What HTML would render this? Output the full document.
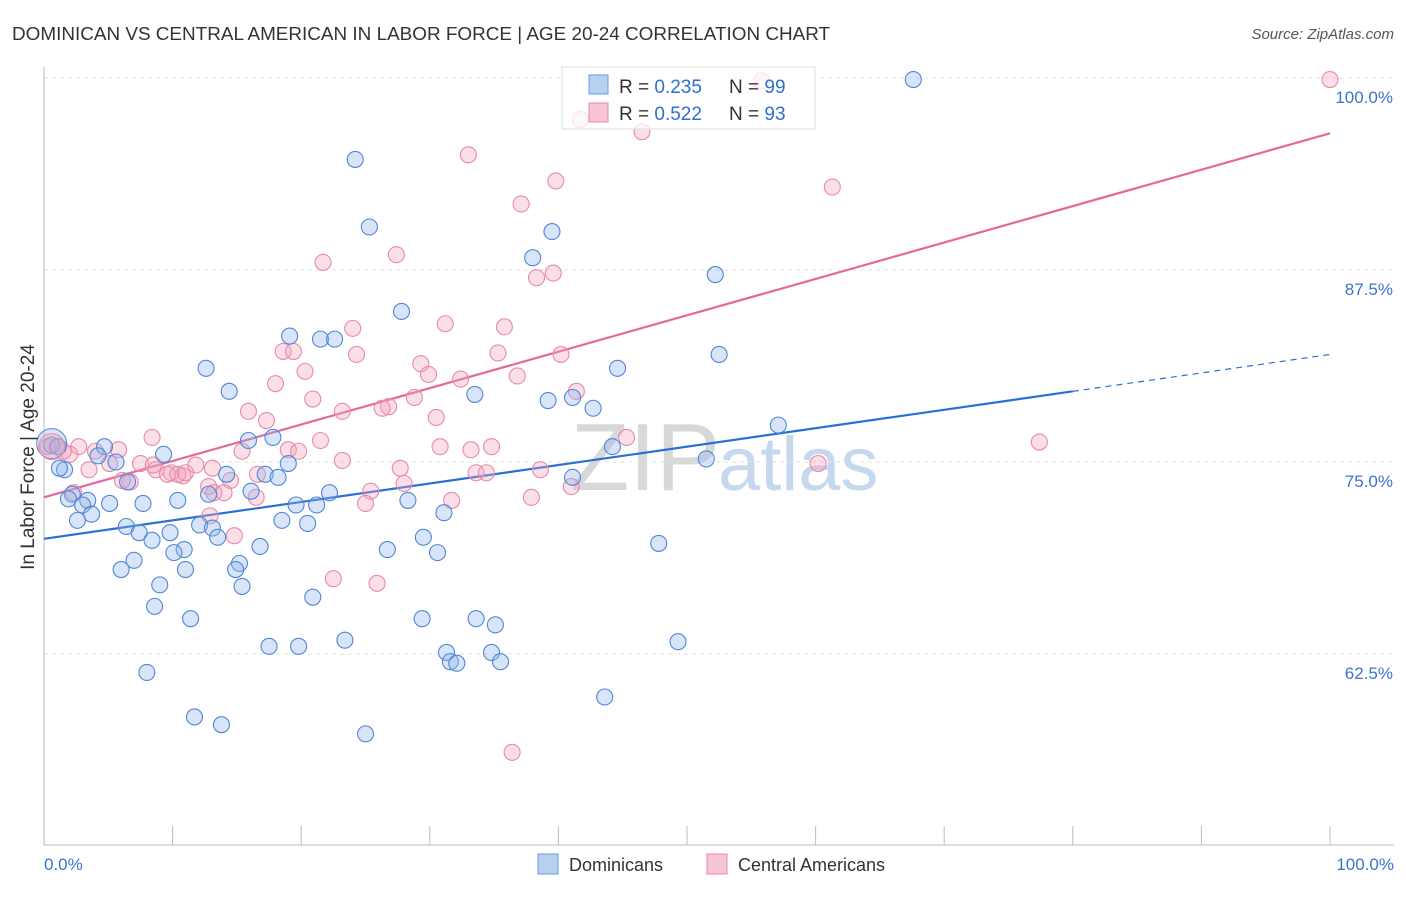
<!DOCTYPE html>
<html><head><meta charset="utf-8">
<style>
body{margin:0;background:#fff;font-family:"Liberation Sans",sans-serif;}
svg text{font-family:"Liberation Sans",sans-serif;}
</style></head>
<body>
<svg id="chart" width="1406" height="892" viewBox="0 0 1406 892" xmlns="http://www.w3.org/2000/svg">
<text x="12" y="40" font-size="18.9" fill="#333">DOMINICAN VS CENTRAL AMERICAN IN LABOR FORCE | AGE 20-24 CORRELATION CHART</text>
<text x="1394" y="39" font-size="15" fill="#555" font-style="italic" text-anchor="end">Source: ZipAtlas.com</text>
<text x="720" y="490" font-size="96" fill="#d8d8d8" text-anchor="end" font-family="Liberation Serif">ZIP</text>
<text x="718" y="490" font-size="76" fill="#c6d8ee">atlas</text>
<g id="grid"></g>
<g id="axes"></g>
<g id="trends"></g>
<g id="points"></g>
<text transform="translate(34,457) rotate(-90)" font-size="19" fill="#333" text-anchor="middle">In Labor Force | Age 20-24</text>
<g>
<rect x="562" y="67" width="253" height="62" fill="#fff" fill-opacity="0.75" stroke="#ddd"/>
<rect x="589" y="75" width="19" height="19" fill="#b7d0f2" stroke="#6a9ae0"/>
<rect x="589" y="103" width="19" height="19" fill="#f8c4d4" stroke="#e88aa8"/>
<text x="619" y="93" font-size="19" fill="#333">R = <tspan fill="#2f6fd0">0.235</tspan></text>
<text x="729" y="93" font-size="19" fill="#333">N = <tspan fill="#2f6fd0">99</tspan></text>
<text x="619" y="120" font-size="19" fill="#333">R = <tspan fill="#2f6fd0">0.522</tspan></text>
<text x="729" y="120" font-size="19" fill="#333">N = <tspan fill="#2f6fd0">93</tspan></text>
</g>
<g>
<rect x="538" y="854" width="20" height="20" fill="#b7d0f2" stroke="#6a9ae0"/>
<text x="569" y="871" font-size="18" fill="#333">Dominicans</text>
<rect x="707" y="854" width="20" height="20" fill="#f8c4d4" stroke="#e88aa8"/>
<text x="738" y="871" font-size="18" fill="#333">Central Americans</text>
</g>
</svg>
<script>
const yTicks=[62.5,75,87.5,100];
const yTickLabels=["62.5%","75.0%","87.5%","100.0%"];
const xTicks=[0,10,20,30,40,50,60,70,80,90,100];
const xTickLabels=["0.0%","100.0%"];
const blueX=[67.6,24.2,25.3,39.5,38.0,52.2,27.8,19.1,21.5,22.6,52.5,12.6,44.6,14.4,33.5,39.2,41.1,42.7,57.1,17.8,15.9,4.7,9.3,44.2,51.5,0.6,1.1,5.6,4.2,19.0,1.6,1.2,17.2,18.2,6.5,14.2,2.2,1.9,3.4,3.0,7.7,10.4,5.1,12.8,16.1,22.2,28.3,19.6,21.2,3.7,2.6,31.1,18.5,20.5,6.4,12.1,13.1,13.5,7.4,9.8,8.4,10.9,10.1,16.8,29.5,26.7,30.6,47.8,7.0,6.0,11.0,15.2,14.9,9.0,15.4,20.9,8.6,11.4,29.4,33.6,35.1,17.5,19.8,23.4,49.3,31.3,34.8,31.6,32.1,35.5,8.0,43.6,11.7,13.8,25.0,41.1,43.1];
const blueY=[99.9,94.7,90.3,90.0,88.3,87.2,84.8,83.2,83.0,83.0,82.0,81.1,81.1,79.6,79.4,79.0,79.2,78.5,77.4,76.6,76.4,76.0,75.5,76.0,75.2,76.1,76.0,75.0,75.4,74.9,74.5,74.6,74.2,74.0,73.7,74.2,72.9,72.6,72.5,72.2,72.3,72.5,72.3,72.9,73.1,73.0,72.5,72.2,72.2,71.6,71.2,71.7,71.2,71.0,70.8,70.9,70.7,70.1,70.4,70.4,69.9,69.3,69.1,69.5,70.1,69.3,69.1,69.7,68.6,68.0,68.0,68.4,68.0,67.0,66.9,66.2,65.6,64.8,64.8,64.8,64.4,63.0,63.0,63.4,63.3,62.6,62.6,62.0,61.9,62.0,61.3,59.7,58.4,57.9,57.3,74.0,99.7];
const pinkX=[100,55.8,41.7,46.5,33.0,39.8,61.3,37.1,27.4,21.7,39.6,38.3,31.2,35.8,24.0,18.6,19.4,24.3,35.3,40.2,29.3,20.3,29.9,32.4,36.8,18.0,20.9,41.4,28.8,26.8,23.2,15.9,26.3,17.3,30.5,45.3,8.4,21.5,77.4,19.0,15.4,19.8,30.8,33.2,34.8,5.8,2.7,4.0,5.1,7.5,2.0,1.0,0.3,1.5,23.2,60.2,38.6,27.7,33.6,34.4,13.1,11.8,10.8,9.9,8.7,9.6,10.4,11.0,3.5,6.7,6.1,16.6,14.5,12.8,13.2,14.0,28.0,25.4,41.0,16.5,25.0,31.7,2.3,12.9,14.8,37.9,22.5,25.9,36.4,8.5];
const pinkY=[99.9,99.8,97.3,96.5,95.0,93.3,92.9,91.8,88.5,88.0,87.3,87.0,84.0,83.8,83.7,82.2,82.2,82.0,82.1,82.0,81.4,80.9,80.7,80.4,80.6,80.1,79.1,79.6,79.2,78.6,78.3,78.3,78.5,77.7,77.9,76.6,76.6,76.4,76.3,75.8,75.7,75.7,76.0,75.8,76.0,75.8,76.0,75.7,74.9,74.9,75.5,76.0,76.0,75.7,75.1,74.9,74.5,74.6,74.3,74.3,74.6,74.8,74.1,74.3,74.5,74.2,74.2,74.3,74.5,73.7,73.8,74.2,73.8,73.4,73.0,73.0,73.6,73.1,73.4,72.7,72.3,72.5,73.0,71.5,70.2,72.7,67.4,67.1,56.1,74.8];
const blueTrend=[70.0,0.12];
const pinkTrend=[72.7,0.237];
const blueSolidEnd=80;

const NS="http://www.w3.org/2000/svg";
const X0=44,X1=1330,YB=845;
function sx(v){return X0+(X1-X0)*v/100;}
function sy(v){return 462-(v-75)*15.36;}
function mk(tag,attrs,parent){const e=document.createElementNS(NS,tag);for(const k in attrs)e.setAttribute(k,attrs[k]);parent.appendChild(e);return e;}
const grid=document.getElementById('grid'),axes=document.getElementById('axes'),trends=document.getElementById('trends'),pts=document.getElementById('points');
yTicks.forEach((t,i)=>{
  const l=mk('line',{x1:X0,x2:1394,y1:sy(t),y2:sy(t),stroke:'#e2e2e2','stroke-dasharray':'4,4'},grid);
  
  
  const tx=mk('text',{x:1393,y:sy(t)+25,'font-size':17,fill:'#3a74d0','text-anchor':'end'},axes);
  tx.textContent=yTickLabels[i];
  
  
});
const yl=mk('line',{x1:X0,x2:X0,y1:67,y2:YB,stroke:'#bbb'},axes);


const xl=mk('line',{x1:X0,x2:1394,y1:YB,y2:YB,stroke:'#bbb'},axes);


xTicks.forEach(t=>{
  const l=mk('line',{x1:sx(t),x2:sx(t),y1:826,y2:YB,stroke:'#bbb'},axes);
  
  
});
[[0,'start',44],[100,'end',1394]].forEach((d,i)=>{
  const tx=mk('text',{x:d[2],y:870,'font-size':17,fill:'#3a74d0','text-anchor':d[1]},axes);
  tx.textContent=xTickLabels[i];
  
  
});
function drawPts(xs,ys,fill,stroke,name){
  xs.forEach((x,i)=>{
    const c=mk('circle',{cx:sx(x),cy:sy(ys[i]),r:8,fill:fill,'fill-opacity':0.35,stroke:stroke,'stroke-width':1.1},pts);
    
    
  });
}
drawPts(pinkX,pinkY,'#f4a3bd','#e88aa8','central-american-point');
drawPts(blueX,blueY,'#8fb5ea','#4f86d6','dominican-point');
const bc=mk('circle',{cx:sx(0.6),cy:sy(76.2),r:15,fill:'#8fb5ea','fill-opacity':0.35,stroke:'#4f86d6'},pts);


const pc=mk('circle',{cx:sx(0.6),cy:sy(76.0),r:13,fill:'#f4a3bd','fill-opacity':0.35,stroke:'#e88aa8'},pts);


function tr(t,x){return t[0]+t[1]*x;}
const b1=mk('line',{x1:sx(0),y1:sy(tr(blueTrend,0)),x2:sx(blueSolidEnd),y2:sy(tr(blueTrend,blueSolidEnd)),stroke:'#2a6fd6','stroke-width':2.2},trends);


const b2=mk('line',{x1:sx(blueSolidEnd),y1:sy(tr(blueTrend,blueSolidEnd)),x2:sx(100),y2:sy(tr(blueTrend,100)),stroke:'#2a6fd6','stroke-width':1.2,'stroke-dasharray':'6,5'},trends);


const p1=mk('line',{x1:sx(0),y1:sy(tr(pinkTrend,0)),x2:sx(100),y2:sy(tr(pinkTrend,100)),stroke:'#e4689a','stroke-width':2.2},trends);


</script>
</body></html>
